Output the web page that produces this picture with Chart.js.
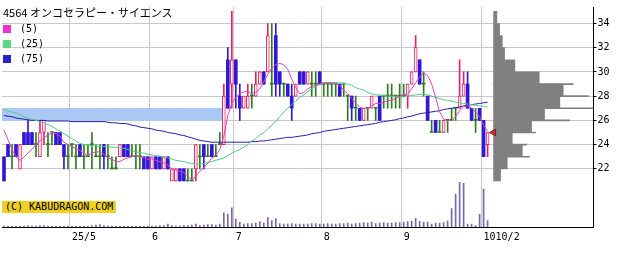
<!DOCTYPE html>
<html>
<head>
<meta charset="utf-8">
<script src="https://cdn.jsdelivr.net/npm/chart.js"></script>
<style>
body { margin: 0; background: #fff; }
#wrap { position: relative; width: 638px; height: 253px; }
#c { position: absolute; left: 0; top: 0; }
.title { position: absolute; left: 3px; top: 6px; font: 11px "Noto Sans CJK JP"; line-height: 13px; color: #000; white-space: nowrap; }
.leg { position: absolute; left: 3px; font: 10px "DejaVu Sans Mono"; line-height: 11px; color: #000; white-space: nowrap; }
.leg span { display: inline-block; width: 8px; height: 8px; margin-right: 9px; vertical-align: -1px; }
.copy { position: absolute; left: 2px; top: 201px; height: 12px; padding: 0 3px; background: #f0d020; font: 10px "DejaVu Sans Mono"; line-height: 12px; color: #000; white-space: nowrap; }
</style>
</head>
<body>
<div id="wrap">
  <canvas id="c" width="638" height="253"></canvas>
  <div class="title">4564 オンコセラピー・サイエンス</div>
  <div class="leg" style="top:23px"><span style="background:#ee33cc"></span>(5)</div>
  <div class="leg" style="top:38px"><span style="background:#55d888"></span>(25)</div>
  <div class="leg" style="top:53px"><span style="background:#2a22cc"></span>(75)</div>
  <div class="copy">(C) KABUDRAGON.COM</div>
</div>
<script>
// trading days shown (2025/4/7 - 2025/10/2)
var aprDays = [7,8,9,10,11,14,15,16,17,18,21,22,23,24,25,28,30];
var mayDays = [1,2,7,8,9,12,13,14,15,16,19,20,21,22,23,26,27,28,29,30];
var junDays = [2,3,4,5,6,9,10,11,12,13,16,17,18,19,20,23,24,25,26,27,30];
var julDays = [1,2,3,4,7,8,9,10,11,14,15,16,17,18,22,23,24,25,28,29,30,31];
var augDays = [1,4,5,6,7,8,12,13,14,15,18,19,20,21,22,25,26,27,28,29];
var sepDays = [1,2,3,4,5,8,9,10,11,12,16,17,18,19,22,24,25,26,29,30];
var octDays = [1,2];

var tickDates = ['5/1','6/2','7/1','8/1','9/1','10/1'];
var tickText = ['25/5','6','7','8','9','10'];
var lastLabel = '10/2';
var priceTicks = [22,24,26,28,30,32,34];

var open = [23,24,23,24,22,25,25,25,24,23, 25,24,25,25,25,24,23,24,23,24,
  23,23,24,23,23,24,23,22,22,23, 24,24,23,23,23,23,23,22,23,23,
  22,23,21,21,22,22,21,21,22,23, 24,23,24,23,24,24,31,29,31,28,
  27,27,28,28,29,30,30,29,33,30, 29,29,28,28,30,30,29,29,29,30,
  29,29,29,29,29,29,28,28,27,27, 26,27,27,27,28,28,28,28,28,28,
  28,28,29,30,31,29,28,25,26,25, 25,26,26,27,27,28,29,27,26,27,
  26,24];
var high = [23,24,24,24,24,25,26,25,25,26, 26,25,25,25,25,24,24,24,24,24,
  24,24,25,24,24,24,24,23,23,24, 24,24,24,24,24,23,23,23,23,23,
  23,23,22,22,22,22,22,22,24,24, 24,24,24,24,25,29,32,35,31,29,
  28,29,29,30,30,30,34,34,34,30, 29,29,29,29,30,30,30,30,30,30,
  29,29,29,29,29,29,28,28,28,27, 27,27,28,27,28,28,29,29,28,29,
  29,29,30,33,31,30,28,26,26,26, 26,26,27,27,31,30,30,27,27,27,
  26,25];
var low = [21,23,22,23,22,24,24,24,23,23, 24,23,24,24,24,22,22,23,22,23,
  22,23,22,23,22,22,22,22,22,23, 23,23,23,22,22,22,22,22,22,22,
  22,22,21,21,21,21,21,21,21,22, 22,23,23,23,24,24,27,27,27,26,
  27,27,27,28,29,29,30,28,28,28, 28,28,26,28,29,29,29,28,28,29,
  28,28,28,28,28,28,26,26,26,26, 26,26,27,26,26,27,27,27,27,27,
  28,27,29,30,29,28,26,25,25,25, 25,25,26,26,27,28,27,26,25,26,
  23,23];
var close = [21,23,23,23,24,24,24,24,24,25, 26,24,25,24,24,23,23,24,23,23,
  23,23,24,23,23,23,23,22,22,24, 23,23,23,23,23,22,22,23,22,22,
  23,22,22,22,21,21,21,21,24,23, 23,23,23,23,24,28,27,31,29,27,
  28,28,28,29,30,29,33,29,29,29, 29,28,27,29,29,29,30,29,29,29,
  29,29,29,29,28,29,28,27,27,26, 27,27,28,27,26,28,28,28,28,28,
  28,29,30,32,29,29,26,25,25,25, 26,26,26,27,28,29,27,26,26,26,
  23,25];
var volume = [10,10,10,10,10,10,15,10,10,15, 15,10,10,10,10,10,10,10,10,10,
  10,10,15,20,25,15,10,10,10,10, 10,10,10,10,10,10,10,10,10,15,
  15,30,15,10,10,15,15,20,30,15, 20,25,25,20,30,147,130,197,83,47,
  30,35,35,40,57,40,97,67,87,35, 30,30,35,30,30,30,30,35,35,30,
  30,35,30,30,35,35,40,30,35,40, 45,40,50,35,40,45,40,40,45,45,
  50,55,60,90,60,50,50,30,40,40, 45,60,190,340,460,450,30,30,15,130,
  390,67];

var ma5 = [25.2,24.4,23.6,23.0,22.7,22.96,23.3,23.6,24.0,24.3, 24.56,24.8,24.96,24.9,24.7,24.2,24.0,23.8,23.7,23.5,
  23.3,23.1,23.3,23.4,23.4,23.2,22.9,22.8,22.6,22.6, 22.8,22.9,23.0,23.1,23.0,22.9,22.8,22.8,22.7,22.6,
  22.5,22.3,22.0,21.9,21.8,21.7,21.4,21.1,21.4,21.8, 22.1,22.5,22.9,23.1,23.6,24.7,26.4,27.4,27.9,28.2,
  28.35,28.4,28.2,28.3,28.6,29.2,29.8,30.3,30.6,30.7, 30.6,30.2,29.4,28.7,28.2,28.3,28.6,28.8,28.9,29.0,
  29.1,29.1,29.1,29.0,28.9,28.5,28.2,27.8,27.4,27.1, 27.0,27.0,27.2,27.4,27.4,27.5,27.6,27.7,27.8,28.0,
  28.1,28.2,28.6,29.1,29.6,29.9,29.7,29.0,27.9,26.7, 26.1,26.0,26.0,26.3,26.8,27.1,27.2,27.0,26.7,26.3,
  25.6,25.1];
var ma25 = [26.9,26.8,26.7,26.6,26.45,26.3,26.2,26.1,26.0,25.9, 25.8,25.65,25.5,25.3,25.1,24.9,24.7,24.5,24.3,24.1,
  24.0,23.95,23.9,23.9,23.85,23.85,23.8,23.8,23.75,23.7, 23.7,23.6,23.5,23.4,23.35,23.3,23.2,23.15,23.1,23.05,
  23.0,22.9,22.8,22.7,22.65,22.6,22.5,22.45,22.4,22.4, 22.45,22.5,22.6,22.7,22.8,22.9,23.1,23.3,23.45,23.6,
  23.8,24.0,24.3,24.5,24.8,25.0,25.3,25.6,25.9,26.3, 26.7,27.0,27.3,27.6,27.9,28.1,28.4,28.6,28.8,29.0,
  29.1,29.1,29.1,29.1,29.1,29.05,29.0,28.9,28.7,28.6, 28.5,28.3,28.2,28.1,28.1,28.05,28.0,28.0,27.95,27.95,
  27.95,28.0,28.05,28.1,28.15,28.15,28.1,28.0,27.9,27.8, 27.7,27.65,27.6,27.5,27.45,27.4,27.35,27.3,27.25,27.2,
  27.15,27.1];
var ma75 = [26.4,26.35,26.3,26.2,26.15,26.1,26.05,26.0,26.0,26.0, 26.0,25.95,25.95,25.95,25.95,25.95,25.95,25.9,25.9,25.9,
  25.9,25.9,25.9,25.9,25.9,25.9,25.85,25.8,25.8,25.75, 25.75,25.7,25.6,25.55,25.45,25.4,25.35,25.3,25.2,25.15,
  25.1,25.0,24.95,24.9,24.8,24.75,24.65,24.55,24.45,24.35, 24.3,24.25,24.2,24.2,24.2,24.2,24.2,24.2,24.2,24.2,
  24.2,24.2,24.25,24.25,24.3,24.3,24.35,24.4,24.45,24.5, 24.55,24.6,24.6,24.65,24.7,24.75,24.8,24.9,24.95,25.0,
  25.1,25.15,25.2,25.25,25.3,25.35,25.4,25.45,25.5,25.55, 25.6,25.65,25.7,25.75,25.85,25.9,25.95,26.0,26.05,26.15,
  26.2,26.3,26.35,26.45,26.55,26.6,26.65,26.7,26.75,26.8, 26.9,26.95,27.0,27.05,27.1,27.2,27.25,27.3,27.35,27.4,
  27.45,27.5];

// volume by price (1 yen bins, lower edge) and single-price peaks
var profileLevels = [21,22,23,24,25,26,27,28,29,30,31,32,33,34];
var profileVol = [70,137,287,187,380,510,663,697,457,213,110,87,60,33];
var peakLevels = [23,24,25,26,27,28,29];
var peakVol = [360,330,420,760,997,950,797];

// unfilled window (price gap)
var gapLow = 26, gapHigh = 27;
var gapUntil = '6/25';

var dates = [];
[[4, aprDays], [5, mayDays], [6, junDays], [7, julDays], [8, augDays], [9, sepDays], [10, octDays]].forEach(function (m) {
    m[1].forEach(function (d) { dates.push(m[0] + '/' + d); });
});
var labels = dates.slice();
for (var k = 0; k < 26; k++) labels.push('e' + k);

var upColor = '#e8206a', downColor = '#3416d6', flatColor = '#2e7a1e';
var candleColor = close.map(function (c, i) {
    return c > open[i] ? upColor : (c < open[i] ? downColor : flatColor);
});
var wicks = low.map(function (l, i) { return [l, high[i]]; });
var upBody = close.map(function (c, i) { return c > open[i] ? [open[i], c] : null; });
var downBody = close.map(function (c, i) { return c < open[i] ? [c, open[i]] : null; });
var flatBody = close.map(function (c, i) { return c === open[i] ? [c, c] : null; });
var gapEnd = dates.indexOf(gapUntil);
var gapBand = dates.map(function (d, i) { return i <= gapEnd ? [gapLow, gapHigh] : null; });

var priceMin = 17.2, priceMax = 35.36;
var setPriceTicks = function (s) { s.ticks = priceTicks.map(function (v) { return {value: v}; }); };
var monoFont = {family: 'DejaVu Sans Mono', size: 10};

var ctx = document.getElementById('c').getContext('2d');
var chart = new Chart(ctx, {
    type: 'bar',
    data: {
        labels: labels,
        datasets: [
            {label: 'gap', data: gapBand, backgroundColor: '#aac8f4', barPercentage: 1, categoryPercentage: 1, grouped: false, order: 12},
            {label: 'volume', data: volume, yAxisID: 'yVol', backgroundColor: '#7868a8', barThickness: 1, grouped: false, order: 11},
            {label: 'profile', indexAxis: 'y', xAxisID: 'xProf', yAxisID: 'yProf',
             data: profileLevels.map(function (p, i) { return {x: profileVol[i], y: p + 0.5}; }),
             backgroundColor: '#808080', barPercentage: 1, categoryPercentage: 1, grouped: false, order: 10},
            {label: 'peaks', indexAxis: 'y', xAxisID: 'xProf', yAxisID: 'yProf2',
             data: peakLevels.map(function (p, i) { return {x: peakVol[i], y: p}; }),
             backgroundColor: '#808080', barThickness: 1, grouped: false, order: 10},
            {label: 'wick', data: wicks, backgroundColor: candleColor, barThickness: 1, grouped: false, order: 9},
            {label: 'up', data: upBody, backgroundColor: '#ffffff', borderColor: upColor, borderWidth: 1, borderSkipped: false, barThickness: 3, grouped: false, order: 8},
            {label: 'down', data: downBody, backgroundColor: downColor, barThickness: 3, grouped: false, order: 8},
            {label: 'flat', data: flatBody, backgroundColor: flatColor, barThickness: 3, minBarLength: 1, grouped: false, order: 8},
            {type: 'line', label: '(75)', data: ma75, borderColor: '#2a1aaa', borderWidth: 1, pointRadius: 0, tension: 0, order: 5},
            {type: 'line', label: '(25)', data: ma25, borderColor: '#55c888', borderWidth: 1, pointRadius: 0, tension: 0, order: 4},
            {type: 'line', label: '(5)', data: ma5, borderColor: '#dd44bb', borderWidth: 1, pointRadius: 0, tension: 0, order: 3},
            {type: 'scatter', label: 'last', xAxisID: 'xProf', yAxisID: 'y',
             data: [{x: 0, y: close[close.length - 1]}],
             pointStyle: 'triangle', pointRotation: -90, pointRadius: 4,
             pointBackgroundColor: '#e02828', pointBorderColor: '#802020', pointBorderWidth: 1, order: 1}
        ]
    },
    options: {
        responsive: false,
        devicePixelRatio: 1,
        animation: false,
        events: [],
        layout: {padding: {left: 1.5, right: 0, top: 0, bottom: 0}, autoPadding: false},
        plugins: {legend: {display: false}, tooltip: {enabled: false}},
        scales: {
            x: {
                type: 'category',
                offset: true,
                grid: {
                    offset: true,
                    drawTicks: false,
                    color: function (c) { return tickDates.indexOf(dates[c.index]) >= 0 ? '#c8c8c8' : 'rgba(0,0,0,0)'; }
                },
                border: {color: '#000'},
                ticks: {
                    autoSkip: false, maxRotation: 0, minRotation: 0, align: 'start', padding: 4,
                    font: monoFont, color: '#000',
                    callback: function (v, i) {
                        var k = tickDates.indexOf(dates[i]);
                        if (k >= 0) return tickText[k];
                        if (i === dates.length + 1) return lastLabel;
                        return '';
                    }
                },
                afterFit: function (s) { s.height = 26; }
            },
            xProf: {type: 'linear', axis: 'x', display: false, offset: false, grace: 0, min: -4920, max: 1000},
            y: {
                type: 'linear', position: 'right', min: priceMin, max: priceMax, offset: false,
                afterBuildTicks: setPriceTicks,
                grid: {color: '#c8c8c8', tickColor: '#000', tickLength: 3},
                border: {color: '#000'},
                ticks: {font: monoFont, color: '#000', padding: 1},
                afterFit: function (s) { s.width = 44.5; }
            },
            yProf: {type: 'linear', axis: 'y', display: false, offset: false, min: priceMin, max: priceMax, afterBuildTicks: setPriceTicks},
            yProf2: {type: 'linear', axis: 'y', display: false, offset: false, min: priceMin, max: priceMax, afterBuildTicks: setPriceTicks},
            yVol: {type: 'linear', axis: 'y', display: false, offset: false, min: 0, max: 2270}
        }
    }
});
</script>
</body>
</html>
